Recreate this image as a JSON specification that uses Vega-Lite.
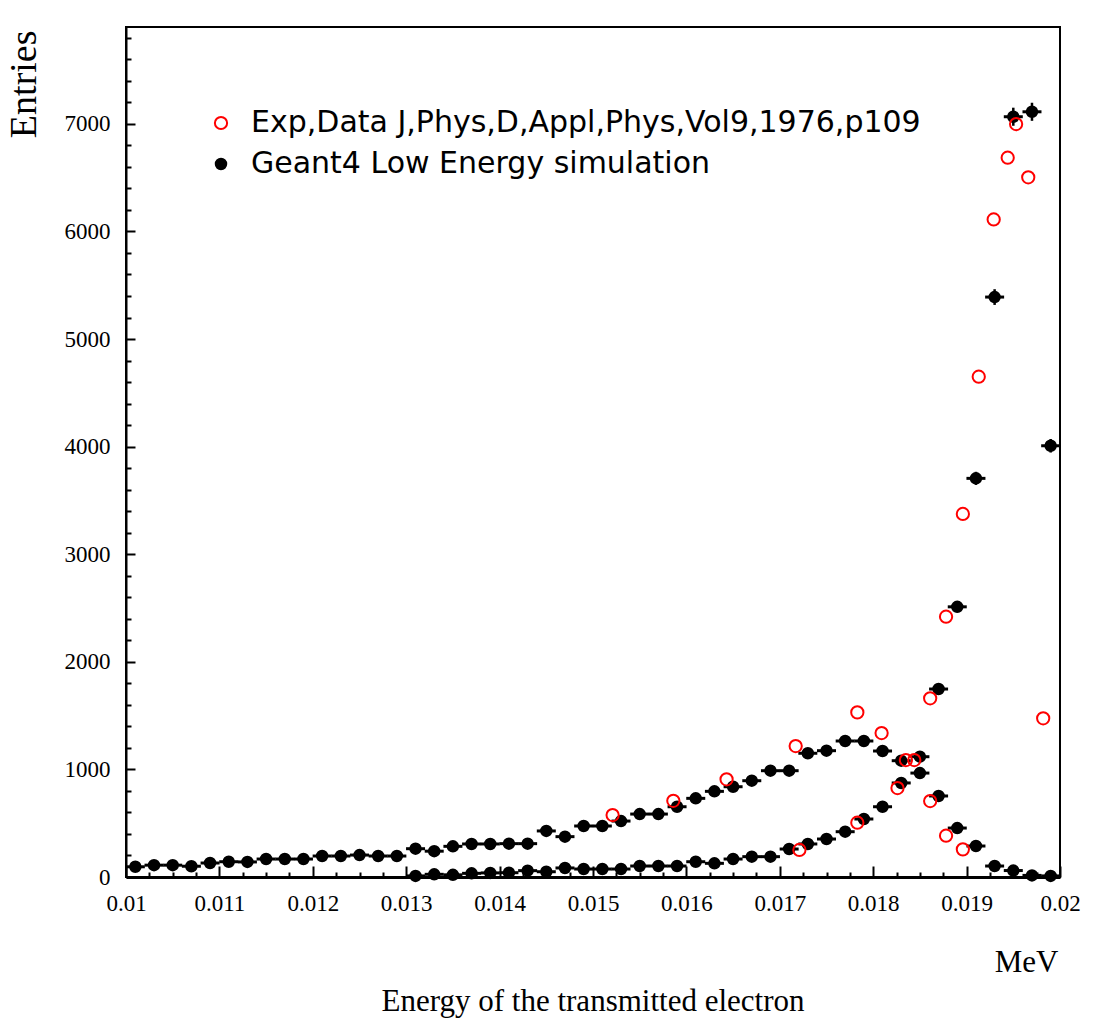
{
  "$schema": "https://vega.github.io/schema/vega-lite/v6.json",
  "width": 934,
  "height": 850,
  "autosize": {"type": "none"},
  "padding": {"left": 126, "top": 27, "right": 38, "bottom": 146},
  "background": "white",
  "config": {"view": {"stroke": "black", "strokeWidth": 2}},
  "title": {"text": "Energy of the transmitted electron", "orient": "bottom", "anchor": "middle", "font": "Liberation Serif", "fontSize": 31, "fontWeight": "normal", "color": "black", "offset": 10},
  "data": {"values": [
    {"s":"sim","c":0.0101,"n":95,"e":10},{"s":"sim","c":0.0103,"n":110,"e":10},{"s":"sim","c":0.0105,"n":110,"e":10},{"s":"sim","c":0.0107,"n":100,"e":10},{"s":"sim","c":0.0109,"n":130,"e":11},
    {"s":"sim","c":0.0111,"n":142,"e":12},{"s":"sim","c":0.0113,"n":140,"e":12},{"s":"sim","c":0.0115,"n":167,"e":13},{"s":"sim","c":0.0117,"n":167,"e":13},{"s":"sim","c":0.0119,"n":167,"e":13},
    {"s":"sim","c":0.0121,"n":195,"e":14},{"s":"sim","c":0.0123,"n":195,"e":14},{"s":"sim","c":0.0125,"n":204,"e":14},{"s":"sim","c":0.0127,"n":195,"e":14},{"s":"sim","c":0.0129,"n":195,"e":14},
    {"s":"sim","c":0.0131,"n":263,"e":16},{"s":"sim","c":0.0133,"n":240,"e":15},{"s":"sim","c":0.0135,"n":285,"e":17},{"s":"sim","c":0.0137,"n":307,"e":18},{"s":"sim","c":0.0139,"n":307,"e":18},
    {"s":"sim","c":0.0141,"n":310,"e":18},{"s":"sim","c":0.0143,"n":310,"e":18},{"s":"sim","c":0.0145,"n":428,"e":21},{"s":"sim","c":0.0147,"n":375,"e":19},{"s":"sim","c":0.0149,"n":474,"e":22},
    {"s":"sim","c":0.0151,"n":474,"e":22},{"s":"sim","c":0.0153,"n":520,"e":23},{"s":"sim","c":0.0155,"n":585,"e":24},{"s":"sim","c":0.0157,"n":585,"e":24},{"s":"sim","c":0.0159,"n":653,"e":26},
    {"s":"sim","c":0.0161,"n":731,"e":27},{"s":"sim","c":0.0163,"n":796,"e":28},{"s":"sim","c":0.0165,"n":839,"e":29},{"s":"sim","c":0.0167,"n":895,"e":30},{"s":"sim","c":0.0169,"n":988,"e":31},
    {"s":"sim","c":0.0171,"n":988,"e":31},{"s":"sim","c":0.0173,"n":1150,"e":34},{"s":"sim","c":0.0175,"n":1174,"e":34},{"s":"sim","c":0.0177,"n":1264,"e":36},{"s":"sim","c":0.0179,"n":1264,"e":36},
    {"s":"sim","c":0.0181,"n":1171,"e":34},{"s":"sim","c":0.0183,"n":1081,"e":33},{"s":"sim","c":0.0185,"n":966,"e":31},{"s":"sim","c":0.0187,"n":753,"e":27},{"s":"sim","c":0.0189,"n":455,"e":21},
    {"s":"sim","c":0.0191,"n":288,"e":17},{"s":"sim","c":0.0193,"n":102,"e":10},{"s":"sim","c":0.0195,"n":60,"e":8},{"s":"sim","c":0.0197,"n":15,"e":4},{"s":"sim","c":0.0199,"n":10,"e":3},
    {"s":"sim","c":0.0131,"n":10,"e":3},{"s":"sim","c":0.0133,"n":25,"e":5},{"s":"sim","c":0.0135,"n":20,"e":4},{"s":"sim","c":0.0137,"n":34,"e":6},{"s":"sim","c":0.0139,"n":38,"e":6},
    {"s":"sim","c":0.0141,"n":40,"e":6},{"s":"sim","c":0.0143,"n":59,"e":8},{"s":"sim","c":0.0145,"n":49,"e":7},{"s":"sim","c":0.0147,"n":84,"e":9},{"s":"sim","c":0.0149,"n":74,"e":9},
    {"s":"sim","c":0.0151,"n":74,"e":9},{"s":"sim","c":0.0153,"n":74,"e":9},{"s":"sim","c":0.0155,"n":102,"e":10},{"s":"sim","c":0.0157,"n":102,"e":10},{"s":"sim","c":0.0159,"n":102,"e":10},
    {"s":"sim","c":0.0161,"n":142,"e":12},{"s":"sim","c":0.0163,"n":127,"e":11},{"s":"sim","c":0.0165,"n":167,"e":13},{"s":"sim","c":0.0167,"n":189,"e":14},{"s":"sim","c":0.0169,"n":189,"e":14},
    {"s":"sim","c":0.0171,"n":260,"e":16},{"s":"sim","c":0.0173,"n":307,"e":18},{"s":"sim","c":0.0175,"n":353,"e":19},{"s":"sim","c":0.0177,"n":421,"e":21},{"s":"sim","c":0.0179,"n":539,"e":23},
    {"s":"sim","c":0.0181,"n":653,"e":26},{"s":"sim","c":0.0183,"n":874,"e":30},{"s":"sim","c":0.0185,"n":1118,"e":33},{"s":"sim","c":0.0187,"n":1747,"e":42},{"s":"sim","c":0.0189,"n":2511,"e":50},
    {"s":"sim","c":0.0191,"n":3705,"e":61},{"s":"sim","c":0.0193,"n":5390,"e":73},{"s":"sim","c":0.0195,"n":7066,"e":84},{"s":"sim","c":0.0197,"n":7112,"e":84},{"s":"sim","c":0.0199,"n":4008,"e":63},
    {"s":"exp","c":0.01521,"n":576},{"s":"exp","c":0.01586,"n":708},{"s":"exp","c":0.01643,"n":908},{"s":"exp","c":0.01717,"n":1217},{"s":"exp","c":0.01783,"n":1530},
    {"s":"exp","c":0.01809,"n":1338},{"s":"exp","c":0.01835,"n":1087},{"s":"exp","c":0.01844,"n":1087},{"s":"exp","c":0.01826,"n":827},{"s":"exp","c":0.01861,"n":1661},
    {"s":"exp","c":0.01861,"n":706},{"s":"exp","c":0.01878,"n":384},{"s":"exp","c":0.01896,"n":257},{"s":"exp","c":0.01982,"n":1475},{"s":"exp","c":0.01721,"n":251},
    {"s":"exp","c":0.01783,"n":505},{"s":"exp","c":0.01896,"n":3374},{"s":"exp","c":0.01878,"n":2419},{"s":"exp","c":0.01929,"n":6111},{"s":"exp","c":0.01913,"n":4650},
    {"s":"exp","c":0.01944,"n":6685},{"s":"exp","c":0.01953,"n":6998},{"s":"exp","c":0.01966,"n":6503}
  ]},
  "encoding": {
    "x": {"field": "c", "type": "quantitative",
      "scale": {"domain": [0.01, 0.02], "nice": false, "zero": false},
      "axis": {
        "values": [0.01,0.01025,0.0105,0.01075,0.011,0.01125,0.0115,0.01175,0.012,0.01225,0.0125,0.01275,0.013,0.01325,0.0135,0.01375,0.014,0.01425,0.0145,0.01475,0.015,0.01525,0.0155,0.01575,0.016,0.01625,0.0165,0.01675,0.017,0.01725,0.0175,0.01775,0.018,0.01825,0.0185,0.01875,0.019,0.01925,0.0195,0.01975,0.02],
        "labelExpr": "abs(datum.value*1000 - round(datum.value*1000)) < 1e-6 ? format(datum.value, '~g') : ''",
        "tickSize": {"condition": {"test": "abs(datum.value*1000 - round(datum.value*1000)) < 1e-6", "value": -11}, "value": -5},
        "tickColor": "black", "tickWidth": 2,
        "domainColor": "black", "domainWidth": 3,
        "grid": false, "labelOverlap": false, "labelFlush": false,
        "labelFont": "Liberation Serif", "labelFontSize": 23, "labelColor": "black", "labelPadding": 26,
        "title": "MeV", "titleFont": "Liberation Serif", "titleFontSize": 31, "titleFontWeight": "normal", "titleColor": "black",
        "titleX": 932, "titleY": 94, "titleAlign": "right", "titleBaseline": "alphabetic"
      }
    },
    "y": {"field": "n", "type": "quantitative",
      "scale": {"domain": [0, 7900], "nice": false},
      "axis": {
        "values": [0,200,400,600,800,1000,1200,1400,1600,1800,2000,2200,2400,2600,2800,3000,3200,3400,3600,3800,4000,4200,4400,4600,4800,5000,5200,5400,5600,5800,6000,6200,6400,6600,6800,7000,7200,7400,7600,7800],
        "labelExpr": "datum.value % 1000 == 0 ? format(datum.value, 'd') : ''",
        "tickSize": {"condition": {"test": "datum.value % 1000 == 0", "value": -9}, "value": -5},
        "tickColor": "black", "tickWidth": 2,
        "domainColor": "black", "domainWidth": 2,
        "grid": false, "labelOverlap": false, "labelFlush": false,
        "labelFont": "Liberation Serif", "labelFontSize": 23, "labelColor": "black", "labelPadding": 25,
        "title": "Entries", "titleFont": "Liberation Serif", "titleFontSize": 38, "titleFontWeight": "normal", "titleColor": "black",
        "titleX": -102, "titleY": 3, "titleAngle": -90, "titleAlign": "right", "titleBaseline": "middle"
      }
    }
  },
  "layer": [
    {
      "transform": [{"filter": {"field": "s", "equal": "sim"}}],
      "mark": {"type": "tick", "orient": "horizontal", "size": 19, "thickness": 3, "color": "black", "opacity": 1}
    },
    {
      "transform": [{"filter": {"field": "s", "equal": "sim"}}],
      "mark": {"type": "errorbar", "thickness": 2.5, "color": "black"},
      "encoding": {"yError": {"field": "e"}}
    },
    {
      "mark": {"type": "point", "shape": "circle", "strokeWidth": 2, "opacity": 1},
      "encoding": {
        "color": {"field": "s", "type": "nominal",
          "scale": {"domain": ["exp", "sim"], "range": ["red", "black"]},
          "legend": {
            "orient": "none", "legendX": 80, "legendY": 81, "title": null,
            "labelExpr": "datum.value == 'exp' ? 'Exp,Data J,Phys,D,Appl,Phys,Vol9,1976,p109' : 'Geant4 Low Energy simulation'",
            "labelFont": "DejaVu Sans", "labelFontSize": 30, "labelColor": "black", "labelLimit": 1000,
            "symbolType": "circle", "symbolSize": 170, "symbolStrokeWidth": 2, "rowPadding": 11, "labelOffset": 15,
            "encode": {"symbols": {"update": {"fill": {"signal": "datum.value == 'sim' ? 'black' : 'transparent'"}}}}
          }
        },
        "fill": {"field": "s", "type": "nominal",
          "scale": {"domain": ["exp", "sim"], "range": ["transparent", "black"]}, "legend": null},
        "size": {"field": "s", "type": "nominal",
          "scale": {"domain": ["exp", "sim"], "range": [150, 110]}, "legend": null}
      }
    }
  ]
}
